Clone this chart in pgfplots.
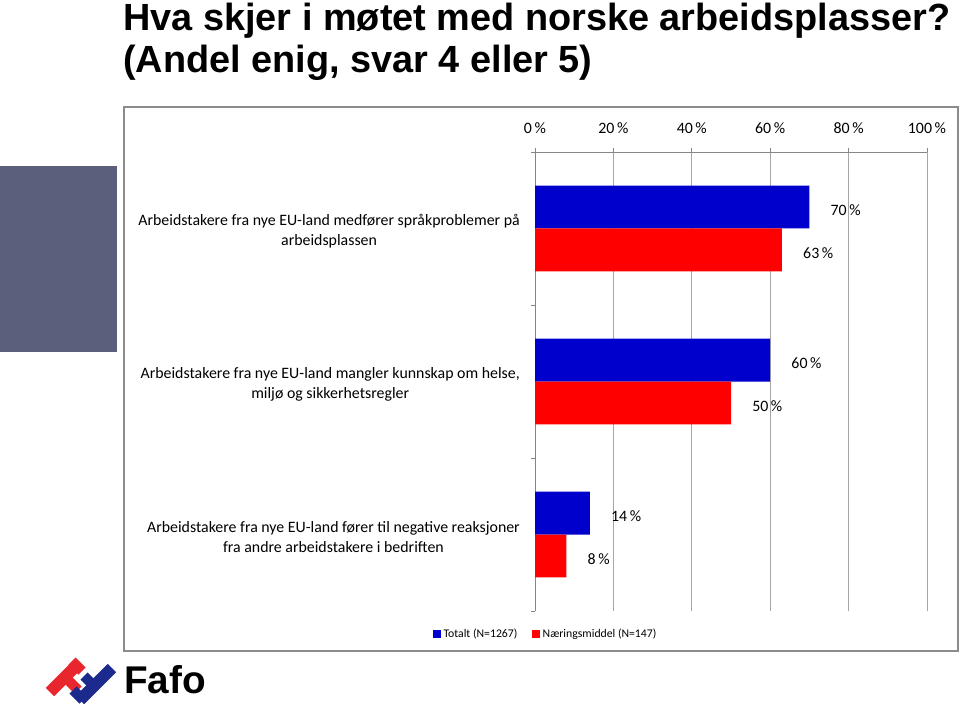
\documentclass[border=0pt]{standalone}
\usepackage{fontspec}
\setmainfont{Carlito}
\newfontfamily\arial{Liberation Sans}
\usepackage{pgfplots}
\usepackage{pgfplotstable}
\pgfplotsset{compat=1.18}
\definecolor{totalt}{HTML}{0000CC}
\definecolor{naering}{HTML}{FF0000}
\definecolor{slate}{HTML}{5B5F7C}
\definecolor{gridgray}{HTML}{A6A6A6}
\definecolor{axisgray}{HTML}{868686}
\definecolor{framegray}{HTML}{8C8C8C}
\definecolor{fafored}{HTML}{E8262E}
\definecolor{fafoblue}{HTML}{1B2A8C}

% y = category position (2 = top), val = share in percent
\pgfplotstableread{
y val
2 70
1 60
0 14
}\tabTotalt
\pgfplotstableread{
y val
2 63
1 50
0 8
}\tabNaering

\newcommand\catfont{\fontsize{11.9}{15}\selectfont}
\newcommand\titlefont{\arial\bfseries\fontsize{28.4}{32}\selectfont}

\begin{document}
\begin{tikzpicture}
\begin{scope}[x=0.75pt,y=-0.75pt]
\useasboundingbox (0,0) rectangle (960,706);
\fill[slate] (0,166) rectangle (117,352);
\draw[framegray, line width=1.5pt] (124,107) rectangle (958,651);
\node[anchor=base west, inner sep=0, font=\titlefont] at (123,30.5) {Hva skjer i møtet med norske arbeidsplasser?};
\node[anchor=base west, inner sep=0, font=\titlefont] at (123,72.5) {(Andel enig, svar 4 eller 5)};
% logo
\draw[fafored, line width=9pt] (50,692) -- (79,663);
\draw[fafored, line width=7.5pt] (72,661) -- (82,671);
\draw[fafored, line width=7.5pt] (64,676) -- (78,690);
\draw[fafoblue, line width=9pt] (80,700) -- (112,668);
\draw[fafoblue, line width=7.5pt] (83,700) -- (73,690);
\draw[fafoblue, line width=7.5pt] (94,686) -- (84,676);
\node[anchor=base west, inner sep=0, font=\arial\bfseries\fontsize{29}{32}\selectfont] at (124,693) {Fafo};
\end{scope}
\begin{axis}[
  at={(401.25pt,-114pt)}, anchor=north west,
  scale only axis, width=294pt, height=344.25pt,
  xbar, bar width=0.281,
  xmin=0, xmax=100, ymin=-0.5, ymax=2.5,
  axis x line*=top, axis y line*=left,
  axis line style={axisgray, line width=0.6pt},
  xtick={0,20,...,100},
  xticklabel={\pgfmathprintnumber{\tick}\,\%},
  /pgf/number format/assume math mode=true,
  xticklabel style={font=\catfont, inner sep=0pt, yshift=10.5pt},
  xmajorgrids, major x grid style={gridgray, line width=0.6pt},
  tick align=outside, major tick length=3pt,
  tick style={axisgray, line width=0.6pt},
  ytick={-0.5,0.5,1.5,2.5}, yticklabels={},
  extra y ticks={0,1,2},
  extra y tick labels={{Arbeidstakere fra nye EU-land fører til negative reaksjoner\\fra andre arbeidstakere i bedriften},
    {Arbeidstakere fra nye EU-land mangler kunnskap om helse,\\miljø og sikkerhetsregler},
    {Arbeidstakere fra nye EU-land medfører språkproblemer på\\arbeidsplassen}},
  extra y tick style={major tick length=0pt, yticklabel style={align=center, inner sep=0pt, xshift=-11.25pt, yshift=-2pt, font=\catfont}},
  nodes near coords={\pgfmathprintnumber{\pgfplotspointmeta}\,\%},
  nodes near coords style={anchor=west, inner sep=0pt, xshift=15.75pt, yshift=-2pt, font=\catfont, text=black},
  legend style={at={(axis description cs:0.028,-0.05)}, anchor=center, draw=none,
    legend columns=-1, font=\fontsize{8.8}{10}\selectfont,
    /tikz/every even column/.append style={column sep=9pt}},
  legend image code/.code={\fill[#1] (0pt,-3pt) rectangle (6pt,3pt);},
]
\addplot[fill=totalt, draw=none, bar shift=0.1405] table[x=val,y=y]{\tabTotalt};
\addplot[fill=naering, draw=none, bar shift=-0.1405] table[x=val,y=y]{\tabNaering};
\legend{Totalt (N=1267), Næringsmiddel (N=147)}
\end{axis}
\end{tikzpicture}
\end{document}
